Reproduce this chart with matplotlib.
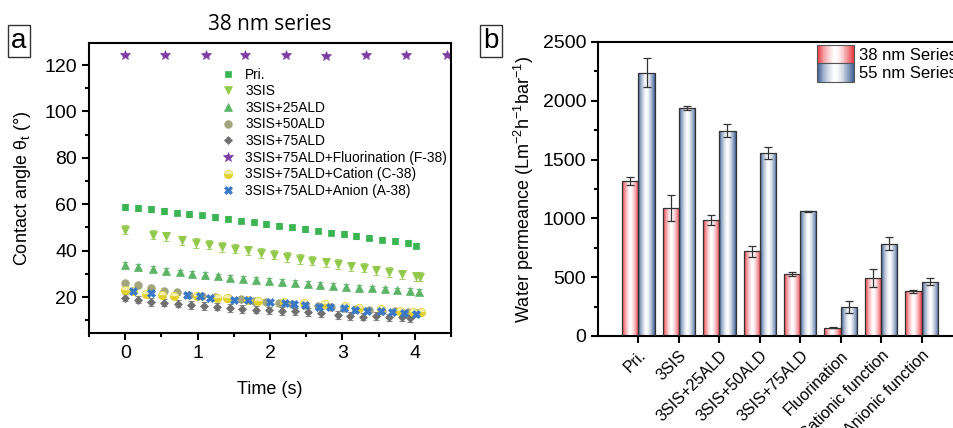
import numpy as np
import matplotlib
matplotlib.use("Agg")
import matplotlib.pyplot as plt
import matplotlib.transforms as mtransforms
from matplotlib.patches import Rectangle
from matplotlib.legend_handler import HandlerBase
from matplotlib.ticker import MultipleLocator

plt.rcParams['font.family'] = ['Liberation Sans', 'DejaVu Sans']
plt.rcParams['mathtext.fontset'] = 'custom'
plt.rcParams['mathtext.rm'] = 'Liberation Sans'
plt.rcParams['mathtext.it'] = 'Liberation Sans:italic'
plt.rcParams['mathtext.bf'] = 'Liberation Sans:bold'

# ---------------- Panel a data ----------------
t_pri = [0, 0.18, 0.355, 0.53, 0.71, 0.886, 1.06, 1.24, 1.42, 1.6, 1.78, 1.95, 2.13, 2.31,
         2.48, 2.66, 2.84, 3.02, 3.19, 3.37, 3.55, 3.73, 3.9, 4.02]
v_pri = [58.8, 58.5, 57.9, 57.0, 56.4, 55.8, 55.2, 54.4, 53.8, 52.9, 52.2, 51.6, 50.8, 50.0,
         49.3, 48.6, 47.8, 47.2, 46.4, 45.6, 44.8, 44.1, 43.2, 42.2]
e_pri = 1.2

t_3sis = [0, 0.39, 0.56, 0.79, 0.98, 1.16, 1.34, 1.52, 1.69, 1.88, 2.05, 2.23, 2.41, 2.58,
          2.77, 2.94, 3.12, 3.30, 3.47, 3.65, 3.83, 4.01, 4.07]
v_3sis = [49.0, 46.9, 46.2, 44.4, 43.3, 42.6, 41.6, 40.9, 40.1, 39.0, 38.3, 37.3, 36.4, 35.6,
          35.0, 34.3, 33.3, 32.6, 31.5, 30.8, 29.8, 29.0, 28.7]
e_3sis = 2.0

t_25 = [0, 0.18, 0.39, 0.56, 0.75, 0.92, 1.1, 1.28, 1.45, 1.63, 1.81, 1.98, 2.16, 2.34,
        2.52, 2.69, 2.87, 3.05, 3.23, 3.41, 3.59, 3.76, 3.94, 4.06]
v_25 = [33.8, 33.0, 32.0, 31.3, 30.6, 30.0, 29.4, 28.9, 28.4, 27.9, 27.4, 26.9, 26.5, 26.1,
        25.7, 25.3, 24.9, 24.5, 24.1, 23.7, 23.3, 22.9, 22.5, 22.1]
e_25 = 1.2

t_50 = [0, 0.18, 0.36, 0.53, 0.71, 0.88, 1.06, 1.24, 1.42, 1.6, 1.78, 1.95, 2.13, 2.31,
        2.48, 2.66, 2.84, 3.02, 3.19, 3.37, 3.55, 3.73, 3.9, 4.02]
v_50 = [26.0, 25.0, 24.0, 22.5, 22.0, 21.0, 20.5, 20.0, 19.5, 19.0, 18.5, 18.0, 17.5, 17.0,
        16.5, 16.0, 15.8, 15.3, 15.0, 14.5, 14.0, 13.8, 13.5, 13.0]
e_50 = 1.0

t_75 = [0, 0.18, 0.355, 0.53, 0.73, 0.91, 1.09, 1.27, 1.45, 1.62, 1.81, 1.98, 2.16, 2.34,
        2.52, 2.7, 2.94, 3.11, 3.29, 3.47, 3.64, 3.82, 3.94]
v_75 = [19.8, 18.9, 17.9, 17.6, 17.2, 16.6, 16.1, 15.8, 15.3, 14.9, 14.6, 14.3, 13.9, 13.8,
        13.6, 13.2, 12.2, 11.9, 11.5, 11.8, 11.2, 11.2, 10.8]
e_75 = 1.6

t_fl = [0, 0.55, 1.11, 1.66, 2.22, 2.77, 3.33, 3.88, 4.44]
v_fl = [124.4, 124.4, 124.4, 124.4, 124.3, 123.9, 124.2, 124.2, 124.3]
e_fl = 0.5

t_cat = [0, 0.11, 0.29, 0.51, 0.67, 0.99, 1.27, 1.41, 1.7, 1.84, 2.19, 2.47, 2.76, 3.03,
         3.23, 3.53, 3.8, 3.97, 4.09]
v_cat = [23.2, 22.6, 21.5, 20.8, 20.5, 20.5, 19.8, 19.4, 18.6, 18.4, 17.9, 17.5, 17.2, 16.1,
         15.3, 14.9, 14.0, 13.5, 13.6]
e_cat = 1.0

t_an = [0.11, 0.36, 0.85, 1.03, 1.17, 1.5, 1.7, 2.0, 2.21, 2.33, 2.49, 2.67, 2.83, 3.02,
        3.18, 3.34, 3.53, 3.69, 3.85, 4.01]
v_an = [22.6, 21.9, 20.8, 20.4, 19.6, 18.9, 18.9, 17.9, 17.5, 17.2, 16.6, 15.8, 15.5, 15.2,
        14.6, 14.0, 13.8, 13.5, 13.2, 12.5]
e_an = 0.8

series_labels = ["Pri.", "3SIS", "3SIS+25ALD", "3SIS+50ALD", "3SIS+75ALD",
                 "3SIS+75ALD+Fluorination (F-38)", "3SIS+75ALD+Cation (C-38)",
                 "3SIS+75ALD+Anion (A-38)"]

# ---------------- Panel b data ----------------
categories = ["Pri.", "3SIS", "3SIS+25ALD", "3SIS+50ALD", "3SIS+75ALD",
              "Fluorination", "Cationic function", "Anionic function"]
perm_38 = [1315, 1090, 985, 720, 525, 70, 495, 380]
err_38 = [35, 110, 40, 45, 15, 3, 75, 15]
perm_55 = [2240, 1940, 1745, 1555, 1060, 245, 785, 460]
err_55 = [120, 20, 55, 50, 4, 50, 55, 30]
bar_labels = ["38 nm Series", "55 nm Series"]

W, H = 954, 428
fig = plt.figure(figsize=(W / 100, H / 100), dpi=100)

# ================= Panel a =================
ax1 = fig.add_axes([89 / W, 1 - 333 / H, (451 - 89) / W, (333 - 43) / H])

styles = [
    (t_pri, v_pri, e_pri, dict(marker='s', color='#3bb552', ms=4.5)),
    (t_3sis, v_3sis, e_3sis, dict(marker='v', color='#93c94a', ms=6)),
    (t_25, v_25, e_25, dict(marker='^', color='#5cb466', ms=5.5)),
    (t_50, v_50, e_50, dict(marker='o', color='#a3a57c', ms=5.5)),
    (t_75, v_75, e_75, dict(marker='D', color='#707070', ms=4.5)),
    (t_fl, v_fl, e_fl, dict(marker='*', color='#7d3fa3', ms=7.5)),
    (t_cat, v_cat, e_cat, dict(marker='o', color='#e2d12a', ms=6, fillstyle='bottom',
                               markerfacecoloralt='#f4eeb0')),
    (t_an, v_an, e_an, dict(marker='X', color='#3a78c8', ms=5.5)),
]
handles = []
for (tt, vv, ee, st), lab in zip(styles, series_labels):
    st = dict(st)
    c = st.pop('color')
    ax1.errorbar(tt, vv, yerr=ee, fmt='none', ecolor=c, elinewidth=0.8,
                 capsize=2.5, capthick=0.8, alpha=0.8)
    ln, = ax1.plot(tt, vv, linestyle='none', color=c, mec=c, mew=0.5, label=lab, **st)
    handles.append(ln)

ax1.set_xlim(-0.5, 4.5)
ax1.set_ylim(4.5, 129.5)
ax1.xaxis.set_major_locator(MultipleLocator(1))
ax1.xaxis.set_minor_locator(MultipleLocator(0.5))
ax1.yaxis.set_major_locator(MultipleLocator(20))
ax1.yaxis.set_minor_locator(MultipleLocator(10))
ax1.set_yticks([20, 40, 60, 80, 100, 120])
ax1.tick_params(axis='both', which='major', direction='out', length=5, width=1.5,
                labelsize=14, top=False, right=False)
ax1.tick_params(axis='both', which='minor', direction='out', length=3, width=1.5,
                top=False, right=False)
for s in ax1.spines.values():
    s.set_linewidth(1.5)
ax1.set_xlabel("Time (s)", fontsize=13, labelpad=14)
ax1.set_ylabel("Contact angle θ$_\\mathregular{t}$ (°)", fontsize=13)
ax1.yaxis.set_label_coords(-0.155, 0.5)
ax1.set_title("38 nm series", fontsize=15, family='Open Sans', pad=9)

ax1.legend(handles=handles, loc='upper left', bbox_to_anchor=(0.365, 0.915),
           frameon=False, fontsize=9.9, labelspacing=0.19, handlelength=1.0,
           handletextpad=0.75, borderpad=0, borderaxespad=0)

fig.text(11 / W, 1 - 41 / H, "a", fontsize=20, ha='left', va='center',
         bbox=dict(boxstyle='square,pad=0.12', fc='white', ec='#333333', lw=1.0))

# ================= Panel b =================
ax2 = fig.add_axes([598 / W, 1 - 336 / H, (962 - 598) / W, (336 - 42) / H])
x = np.arange(len(categories))
bw = 0.4
red = np.array([232, 52, 62]) / 255
blue = np.array([60, 92, 146]) / 255


def grad_colors(edge, n=64):
    u = (np.arange(n) + 0.5) / n
    t = np.abs(2 * u - 1) ** 1.5
    return (1 - t)[:, None] * np.ones(3) + t[:, None] * edge


for vals, errs, off, edge in [(perm_38, err_38, -bw / 2, red), (perm_55, err_55, bw / 2, blue)]:
    bars = ax2.bar(x + off, vals, width=bw, facecolor='none', edgecolor='#333333',
                   linewidth=0.9, zorder=3)
    img = grad_colors(edge)[None, :, :]
    for b in bars:
        x0, w, h = b.get_x(), b.get_width(), b.get_height()
        im = ax2.imshow(img, extent=[x0, x0 + w, 0, h], aspect='auto', zorder=2,
                        interpolation='bilinear')
        im.set_clip_path(b)
    ax2.errorbar(x + off, vals, yerr=errs, fmt='none', ecolor='#333333', elinewidth=0.9,
                 capsize=3, capthick=0.9, zorder=4)

ax2.set_xlim(-1, len(categories))
ax2.set_ylim(0, 2500)
ax2.set_xticks(x)
ax2.set_xticklabels(categories, rotation=45, ha='right', rotation_mode='anchor', fontsize=11.5)
shift = mtransforms.ScaledTranslation(7 / 100, 0, fig.dpi_scale_trans)
for lbl in ax2.get_xticklabels():
    lbl.set_transform(lbl.get_transform() + shift)
ax2.yaxis.set_major_locator(MultipleLocator(500))
ax2.yaxis.set_minor_locator(MultipleLocator(250))
ax2.tick_params(axis='both', which='major', direction='out', length=5, width=1.5,
                top=False, right=False)
ax2.tick_params(axis='y', labelsize=14)
ax2.tick_params(axis='y', which='minor', direction='out', length=3, width=1.5)
for s in ax2.spines.values():
    s.set_linewidth(1.5)
ax2.set_ylabel("Water permeance (Lm$^{-2}$h$^{-1}$bar$^{-1}$)", fontsize=13)
ax2.yaxis.set_label_coords(-0.17, 0.5)


class GradHandler(HandlerBase):
    def __init__(self, edge):
        super().__init__()
        self.edge = edge

    def create_artists(self, legend, orig_handle, xdescent, ydescent, width, height,
                       fontsize, trans):
        n = 40
        cols = grad_colors(self.edge, n)
        hh = fontsize * 1.12
        y0 = -ydescent + (height - hh) / 2
        arts = []
        for i in range(n):
            r = Rectangle((-xdescent + i * width / n, y0), width / n + 0.3, hh,
                          facecolor=cols[i], edgecolor='none', transform=trans)
            arts.append(r)
        arts.append(Rectangle((-xdescent, y0), width, hh, facecolor='none',
                              edgecolor='#555555', lw=0.8, transform=trans))
        return arts


h38 = Rectangle((0, 0), 1, 1)
h55 = Rectangle((0, 0), 1, 1)
ax2.legend([h38, h55], bar_labels, handler_map={h38: GradHandler(red), h55: GradHandler(blue)},
           loc='upper left', bbox_to_anchor=(817 / W, 1 - 46 / H),
           bbox_transform=fig.transFigure, frameon=False, fontsize=12,
           handlelength=2.2, handleheight=1.1, handletextpad=0.3, labelspacing=0.1,
           borderpad=0, borderaxespad=0)

fig.text(483 / W, 1 - 41 / H, "b", fontsize=20, ha='left', va='center',
         bbox=dict(boxstyle='square,pad=0.12', fc='white', ec='#333333', lw=1.0))

fig.savefig("out.png", dpi=100)
